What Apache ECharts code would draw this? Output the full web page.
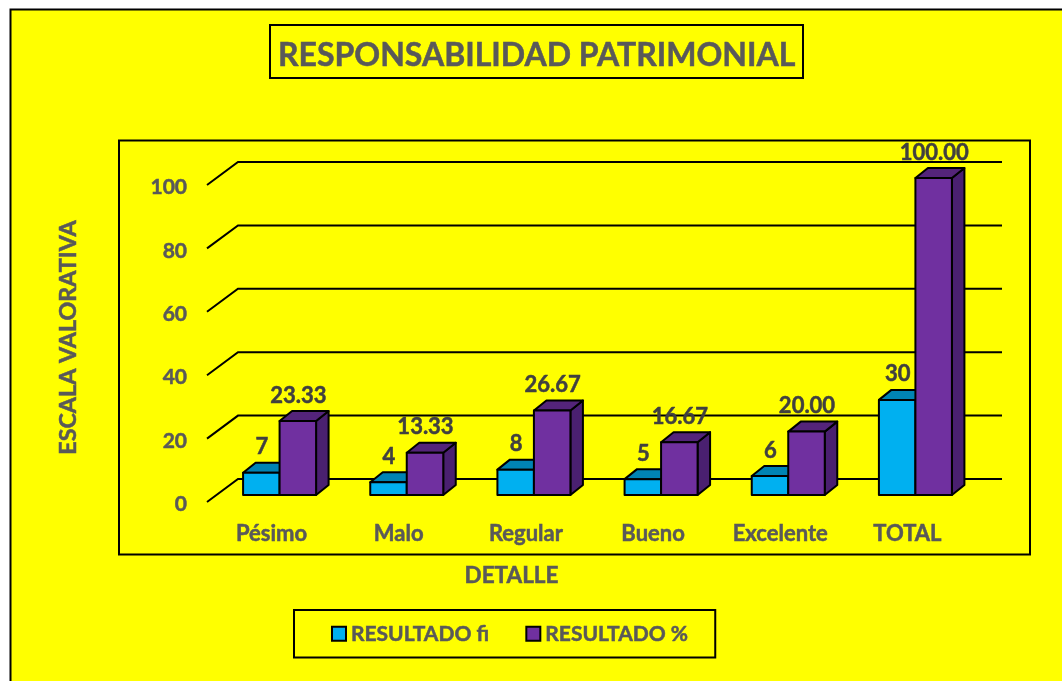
<!DOCTYPE html>
<html><head><meta charset="utf-8">
<style>html,body{margin:0;padding:0;background:#fff;overflow:hidden}#c{width:1062px;height:681px}</style>
<script src="https://cdn.jsdelivr.net/npm/echarts@6/dist/echarts.min.js"></script>
</head><body><div id="c"></div>
<script>
const categories = ['Pésimo','Malo','Regular','Bueno','Excelente','TOTAL'];
const resultadoFi = [7,4,8,5,6,30];
const resultadoPct = [23.33,13.33,26.67,16.67,20.00,100.00];
const yTicks = [0,20,40,60,80,100];

const FONT = 'Lato';
const LABEL = '#595959', DARK = '#404040';
const BAR_W = 36.5, SHIFT_X = 9, BASE_DY = -7, DEPTH_X = 12.5, DEPTH_Y = 10;
const heavy = {textBorderColor:LABEL, textBorderWidth:0.5};

function bar3d(side, colors, fmt){
  return function(params, api){
    const c = api.coord([api.value(0), api.value(1)]);
    const c0 = api.coord([api.value(0), 0]);
    const cx = c0[0] + SHIFT_X;
    const x0 = side < 0 ? cx - BAR_W : cx, x1 = x0 + BAR_W;
    const yt = c[1] + BASE_DY, yb = c0[1] + BASE_DY;
    const st = {stroke:'#000', lineWidth:2, lineJoin:'round'};
    return {type:'group', children:[
      {type:'polygon', shape:{points:[[x1,yt],[x1+DEPTH_X,yt-DEPTH_Y],[x1+DEPTH_X,yb-DEPTH_Y],[x1,yb]]}, style:Object.assign({fill:colors.side},st)},
      {type:'polygon', shape:{points:[[x0,yt],[x0+DEPTH_X,yt-DEPTH_Y],[x1+DEPTH_X,yt-DEPTH_Y],[x1,yt]]}, style:Object.assign({fill:colors.top},st)},
      {type:'rect', shape:{x:x0,y:yt,width:BAR_W,height:yb-yt}, style:Object.assign({fill:colors.front},st)},
      {type:'text', z2:100, style:{text:fmt(api.value(1)), x:(x0+x1)/2+0.5, y:yt-25.5, align:'center', verticalAlign:'middle',
        fill:DARK, stroke:DARK, lineWidth:0.5, font:'bold 22px '+FONT}}
    ]};
  };
}

const chart = echarts.init(document.getElementById('c'), null, {renderer:'canvas', width:1062, height:681});
chart.setOption({
  animation:false,
  backgroundColor:'#ffffff',
  title:{text:'RESPONSABILIDAD PATRIMONIAL', left:270, top:25, padding:[12,8,4,8],
    borderColor:'#000', borderWidth:2,
    textStyle:Object.assign({fontFamily:FONT, fontWeight:'bold', fontSize:32, lineHeight:37, color:LABEL}, heavy)},
  legend:{data:[
      {name:'RESULTADO fi', itemStyle:{color:'#00B0F0',borderColor:'#000',borderWidth:2}},
      {name:'RESULTADO %', itemStyle:{color:'#7030A0',borderColor:'#000',borderWidth:2}}],
    icon:'rect', left:294, top:610, padding:[13,27,13,37], itemWidth:14, itemHeight:14, itemGap:36,
    borderColor:'#000', borderWidth:2, selectedMode:false,
    textStyle:Object.assign({fontFamily:FONT, fontWeight:'bold', fontSize:21, color:LABEL}, heavy)},
  grid:{left:207, top:185, width:763, height:317, containLabel:false},
  xAxis:{type:'category', data:categories, axisLine:{show:false}, axisTick:{show:false}, splitLine:{show:false},
    axisLabel:Object.assign({margin:21, interval:0, fontFamily:FONT, fontWeight:'bold', fontSize:22, color:LABEL, padding:[0,0,0,2]}, heavy),
    name:'DETALLE', nameLocation:'middle', nameGap:62,
    nameTextStyle:Object.assign({fontFamily:FONT, fontWeight:'bold', fontSize:22.5, color:LABEL, padding:[0,154,0,0]}, heavy)},
  yAxis:{type:'value', min:0, max:100, interval:20, axisLine:{show:false}, axisTick:{show:false}, splitLine:{show:false},
    axisLabel:Object.assign({margin:20, fontFamily:FONT, fontWeight:'bold', fontSize:21, color:LABEL, verticalAlign:'top', lineHeight:5}, heavy),
    name:'ESCALA VALORATIVA', nameLocation:'middle', nameGap:127, nameRotate:90,
    nameTextStyle:Object.assign({fontFamily:FONT, fontWeight:'bold', fontSize:23.3, color:LABEL, padding:[0,0,0,12]}, heavy)},
  graphic:[
    {type:'rect', z:-100, silent:true, shape:{x:10.5,y:9.5,width:1100,height:720}, style:{fill:'#FFFF00',stroke:'#000',lineWidth:2}},
    {type:'rect', z:-99, silent:true, shape:{x:119,y:140.5,width:911,height:414}, style:{fill:'transparent',stroke:'#000',lineWidth:2}}
  ],
  series:[
    {type:'custom', coordinateSystem:'cartesian2d', silent:true, z:1, clip:false,
     data:yTicks.map(t=>[0,t]),
     renderItem:function(params, api){
       const y = api.coord([0, api.value(1)])[1];
       const x = params.coordSys.x, r = x + params.coordSys.width;
       return {type:'polyline', shape:{points:[[x,y],[x+31,y-23],[r+32,y-23]]}, style:{stroke:'#000', lineWidth:2, fill:null}};
     }},
    {type:'custom', name:'RESULTADO fi', coordinateSystem:'cartesian2d', silent:true, z:2, clip:false,
     itemStyle:{color:'#00B0F0'},
     data:resultadoFi.map((v,i)=>[i,v]),
     renderItem:bar3d(-1,{front:'#00B0F0',top:'#0084B4',side:'#0084B4'},v=>String(v))},
    {type:'custom', name:'RESULTADO %', coordinateSystem:'cartesian2d', silent:true, z:3, clip:false,
     itemStyle:{color:'#7030A0'},
     data:resultadoPct.map((v,i)=>[i,v]),
     renderItem:bar3d(1,{front:'#7030A0',top:'#54247A',side:'#4A2070'},v=>v.toFixed(2))}
  ]
});
</script></body></html>
